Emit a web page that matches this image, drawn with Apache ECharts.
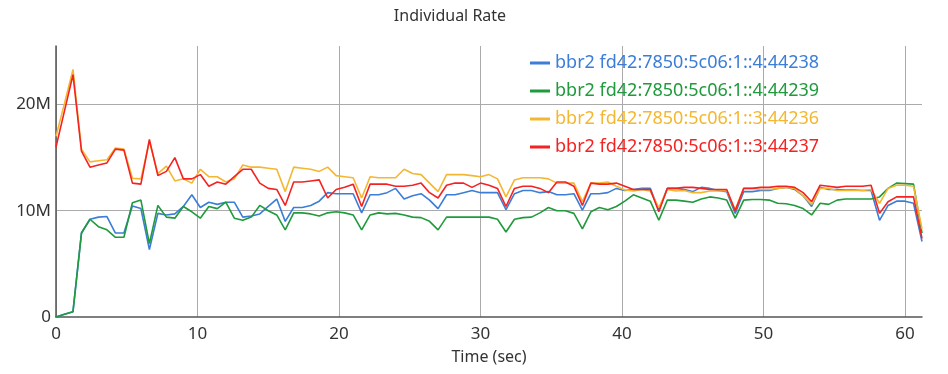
<!DOCTYPE html>
<html>
<head>
<meta charset="utf-8">
<title>Individual Rate</title>
<script src="https://cdn.jsdelivr.net/npm/echarts@6/dist/echarts.min.js"></script>
<style>
  html, body { margin: 0; padding: 0; background: #fff; }
  #chart { width: 948px; height: 374px; }
</style>
</head>
<body>
<div id="chart"></div>
<script>
// 采样时间 (sec)
const times = [
  0.0, 0.6, 1.2, 1.8, 2.4, 3.0, 3.6, 4.2, 4.8, 5.4,
  6.0, 6.6, 7.2, 7.8, 8.4, 9.0, 9.6, 10.2, 10.8, 11.4,
  12.0, 12.6, 13.2, 13.8, 14.4, 15.0, 15.6, 16.2, 16.8, 17.4,
  18.0, 18.6, 19.2, 19.8, 20.4, 21.0, 21.6, 22.2, 22.8, 23.4,
  24.0, 24.6, 25.2, 25.8, 26.4, 27.0, 27.6, 28.2, 28.8, 29.4,
  30.0, 30.6, 31.2, 31.8, 32.4, 33.0, 33.6, 34.2, 34.8, 35.4,
  36.0, 36.6, 37.2, 37.8, 38.4, 39.0, 39.6, 40.2, 40.8, 41.4,
  42.0, 42.6, 43.2, 43.8, 44.4, 45.0, 45.6, 46.2, 46.8, 47.4,
  48.0, 48.6, 49.2, 49.8, 50.4, 51.0, 51.6, 52.2, 52.8, 53.4,
  54.0, 54.6, 55.2, 55.8, 56.4, 57.0, 57.6, 58.2, 58.8, 59.4,
  60.0, 60.6, 61.2
]

// 各连接的速率 (M)
const rate44238 = [
  0, 0.25, 0.5, 7.9, 9.2, 9.4, 9.45, 7.9, 7.9, 10.45,
  10.2, 6.35, 9.75, 9.6, 9.7, 10.4, 11.5, 10.3, 10.8, 10.6,
  10.8, 10.8, 9.4, 9.5, 9.7, 10.4, 11.1, 9.0, 10.3, 10.3,
  10.5, 10.9, 11.7, 11.6, 11.6, 11.6, 9.8, 11.5, 11.5, 11.7,
  12.1, 11.1, 11.4, 11.6, 11.0, 10.2, 11.5, 11.5, 11.7, 11.9,
  11.7, 11.7, 11.7, 10.1, 11.6, 11.9, 11.9, 11.7, 11.8, 11.5,
  11.5, 11.6, 10.05, 11.6, 11.6, 11.7, 12.1, 11.9, 12.0, 12.1,
  12.1, 10.05, 12.1, 12.1, 12.0, 11.8, 12.2, 12.1, 11.9, 11.8,
  9.75, 11.8, 11.8, 11.9, 11.9, 12.1, 12.2, 12.0, 11.4, 10.4,
  12.2, 12.0, 12.0, 11.95, 11.95, 11.9, 11.9, 9.1, 10.5, 10.9,
  10.9, 10.7, 7.1
]
const rate44239 = [
  0, 0.25, 0.5, 7.9, 9.2, 8.5, 8.2, 7.5, 7.5, 10.75,
  11.0, 6.9, 10.5, 9.4, 9.3, 10.4, 9.9, 9.3, 10.4, 10.2,
  10.8, 9.3, 9.1, 9.4, 10.5, 10.0, 9.6, 8.2, 9.8, 9.8,
  9.7, 9.5, 9.8, 9.9, 9.8, 9.6, 8.2, 9.6, 9.8, 9.7,
  9.75, 9.6, 9.4, 9.35, 9.0, 8.2, 9.4, 9.4, 9.4, 9.4,
  9.4, 9.4, 9.2, 8.0, 9.2, 9.35, 9.4, 9.8, 10.3, 10.0,
  10.0, 9.75, 8.3, 9.9, 10.3, 10.1, 10.4, 10.9, 11.5, 11.2,
  10.9, 9.1, 11.0, 11.0, 10.9, 10.8, 11.1, 11.3, 11.2, 11.0,
  9.3, 11.0, 11.05, 11.05, 11.0, 10.7, 10.65, 10.5, 10.2, 9.6,
  10.7, 10.6, 11.0, 11.1, 11.1, 11.1, 11.1, 11.3, 12.1, 12.6,
  12.55, 12.5, 7.9
]
const rate44236 = [
  17.0, 20.1, 23.3, 15.8, 14.6, 14.7, 14.8, 15.9, 15.8, 13.05,
  13.0, 16.5, 13.5, 14.2, 12.8, 13.0, 12.6, 13.9, 13.2, 13.2,
  12.7, 13.0, 14.3, 14.1, 14.1, 14.0, 13.9, 11.8, 14.1, 14.0,
  13.9, 13.7, 14.1, 13.3, 13.2, 13.1, 11.2, 13.2, 13.1, 13.1,
  13.1, 13.9, 13.5, 13.4, 12.6, 11.8, 13.4, 13.4, 13.4, 13.3,
  13.2, 13.4, 13.0, 11.3, 12.9, 13.1, 13.1, 13.1, 13.0, 12.6,
  12.6, 12.6, 10.85, 12.6, 12.6, 12.7, 12.3, 11.95, 11.85, 12.0,
  11.85, 10.3, 12.0, 11.85, 11.9, 11.7, 11.7, 11.85, 11.85, 11.9,
  10.1, 12.1, 12.1, 12.0, 12.0, 12.1, 12.2, 12.1, 11.4, 10.6,
  12.1, 12.1, 11.9, 11.9, 11.9, 11.9, 12.0, 10.7, 12.1, 12.4,
  12.4, 12.3, 8.3
]
const rate44237 = [
  16.0, 19.4, 22.8, 15.6, 14.1, 14.3, 14.5, 15.8, 15.7, 12.6,
  12.5, 16.7, 13.3, 13.7, 15.0, 13.0, 13.0, 13.4, 12.3, 12.7,
  12.5, 13.2, 13.9, 13.9, 12.6, 12.1, 12.0, 10.5, 12.7, 12.7,
  12.8, 12.9, 11.2, 12.0, 12.2, 12.5, 10.4, 12.5, 12.5, 12.5,
  12.3, 12.3, 12.4, 12.6, 11.7, 11.2, 12.4, 12.6, 12.6, 12.2,
  12.6, 12.4, 12.1, 10.4, 12.1, 12.3, 12.3, 12.1, 11.7, 12.7,
  12.7, 12.3, 10.5, 12.6, 12.5, 12.5, 12.6, 12.3, 12.0, 12.0,
  12.0, 9.9, 12.1, 12.1, 12.2, 12.2, 12.1, 12.0, 12.0, 12.0,
  10.0, 12.1, 12.1, 12.2, 12.2, 12.3, 12.3, 12.2, 11.7, 10.85,
  12.4, 12.3, 12.2, 12.3, 12.3, 12.3, 12.4, 9.75, 10.85, 11.3,
  11.3, 11.3, 7.4
]

const seriesNames = [
  'bbr2 fd42:7850:5c06:1::4:44238',
  'bbr2 fd42:7850:5c06:1::4:44239',
  'bbr2 fd42:7850:5c06:1::3:44236',
  'bbr2 fd42:7850:5c06:1::3:44237'
]
const seriesColors = ['#3b7dd8', '#1f9a3c', '#f4b731', '#f52222']
const seriesValues = [rate44238, rate44239, rate44236, rate44237]

const xTicks = [0, 10, 20, 30, 40, 50, 60]
const yTicks = [0, 10, 20] // M

const font = 'Noto Sans, sans-serif'

const chart = echarts.init(document.getElementById('chart'))

const series = seriesValues.map((vals, i) => ({
  name: seriesNames[i],
  type: 'line',
  showSymbol: false,
  symbol: 'none',
  color: seriesColors[i],
  lineStyle: { width: 1.6, color: seriesColors[i] },
  data: vals.map((v, k) => [times[k], v])
}))

const option = {
  animation: false,
  backgroundColor: '#fff',
  title: {
    text: 'Individual Rate',
    left: 445,
    top: 3,
    textAlign: 'center',
    textStyle: { fontFamily: font, fontSize: 16, fontWeight: 'normal', color: '#333' }
  },
  legend: {
    orient: 'vertical',
    left: 525,
    top: 48,
    itemWidth: 20,
    itemHeight: 3,
    itemGap: 8,
    icon: 'rect',
    textStyle: { fontFamily: font, fontSize: 18, lineHeight: 20 },
    data: seriesNames.map((n, i) => ({ name: n, textStyle: { color: seriesColors[i] } }))
  },
  grid: { left: 56, right: 26, top: 46, bottom: 57 },
  xAxis: {
    type: 'value',
    min: 0,
    max: 61.2,
    interval: 10,
    name: 'Time (sec)',
    nameLocation: 'middle',
    nameGap: 32,
    nameTextStyle: { fontFamily: font, fontSize: 16, color: '#333' },
    axisLine: { show: true, lineStyle: { color: '#555', width: 1.5 } },
    axisTick: { show: false },
    axisLabel: {
      fontFamily: font, fontSize: 17, color: '#333', margin: 9,
      showMaxLabel: false,
      formatter: v => (xTicks.indexOf(v) >= 0 ? String(v) : '')
    },
    splitLine: { show: true, showMaxLine: false, lineStyle: { color: '#aaa', width: 1 } }
  },
  yAxis: {
    type: 'value',
    min: 0,
    max: 25.5,
    interval: 10,
    axisLine: { show: true, lineStyle: { color: '#555', width: 1.5 } },
    axisTick: { show: false },
    axisLabel: {
      fontFamily: font, fontSize: 17, color: '#333', margin: 5,
      showMaxLabel: false,
      formatter: v => (yTicks.indexOf(v) < 0 ? '' : (v === 0 ? '0' : v + 'M'))
    },
    splitLine: { show: true, showMinLine: false, showMaxLine: false, lineStyle: { color: '#aaa', width: 1 } }
  },
  series: series
}

chart.setOption(option)
</script>
</body>
</html>
